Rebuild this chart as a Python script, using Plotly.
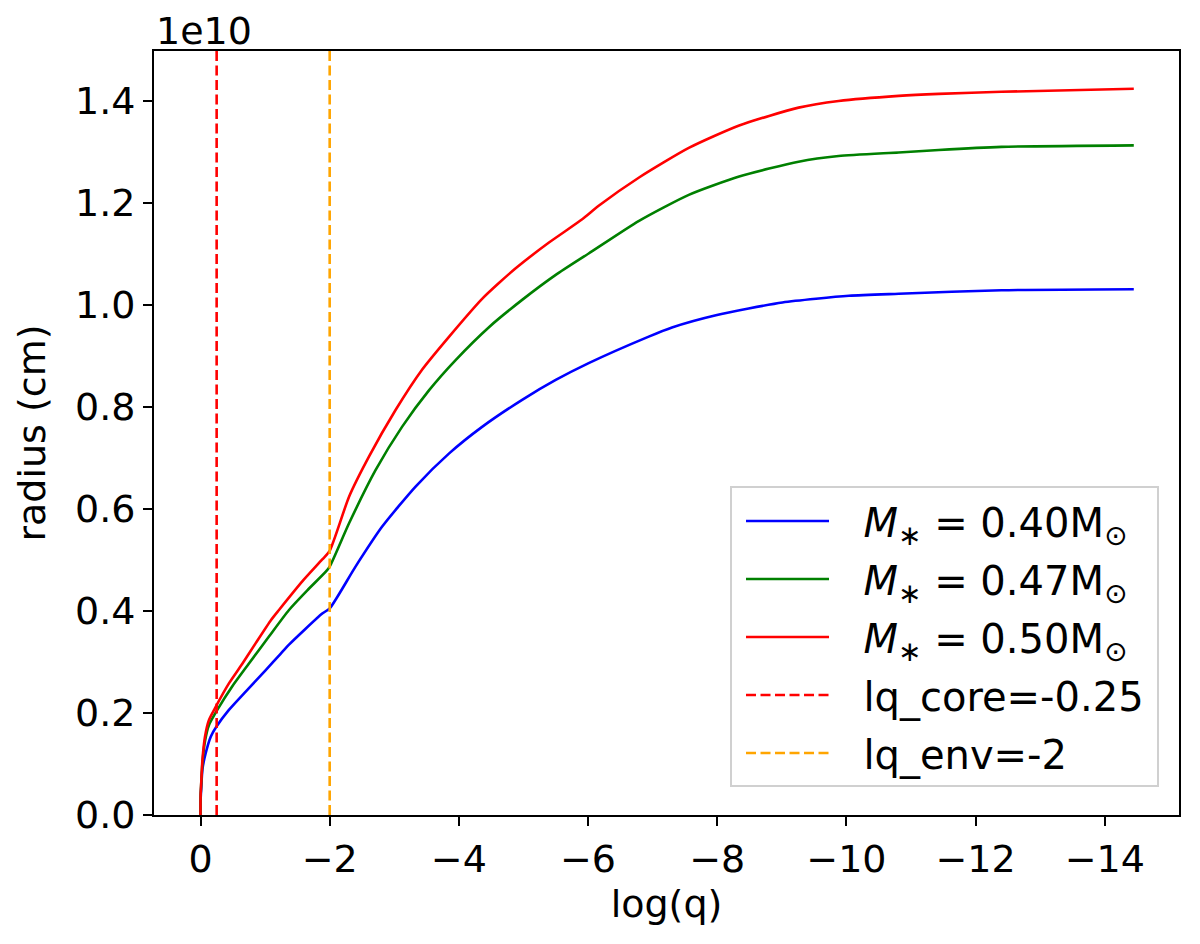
import plotly.graph_objects as go

# ---- data (radius in units of 1e10 cm) ----
logq_040 = [0, -0.0002, -0.002, -0.01, -0.03, -0.08, -0.16, -0.245, -0.44, -0.70, -1.01, -1.24,
            -1.37, -1.885, -2.0, -2.40, -2.81, -3.33, -3.85, -4.36, -4.98, -5.50, -6.01, -6.94,
            -7.30, -7.98, -9.01, -10.04, -10.81, -12.4, -14.45]
r_040 = [0, 0.015, 0.03, 0.05, 0.09, 0.121, 0.154, 0.173, 0.206, 0.242, 0.284, 0.316,
         0.334, 0.395, 0.405, 0.487, 0.565, 0.644, 0.709, 0.761, 0.814, 0.853, 0.886, 0.938,
         0.956, 0.980, 1.005, 1.018, 1.022, 1.029, 1.031]

logq_047 = [0, -0.0002, -0.002, -0.01, -0.03, -0.07, -0.13, -0.26, -0.49, -0.75, -1.06, -1.37,
            -1.65, -1.94, -2.0, -2.30, -2.71, -3.12, -3.54, -3.95, -4.47, -4.98, -5.50, -6.01,
            -6.79, -7.56, -8.34, -9.26, -9.88, -10.81, -11.43, -12.4, -14.45]
r_047 = [0, 0.019, 0.038, 0.058, 0.102, 0.145, 0.176, 0.206, 0.252, 0.297, 0.350, 0.402,
         0.440, 0.477, 0.487, 0.572, 0.676, 0.761, 0.833, 0.892, 0.957, 1.010, 1.059, 1.101,
         1.165, 1.216, 1.252, 1.281, 1.292, 1.299, 1.304, 1.310, 1.313]

logq_050 = [0, -0.0002, -0.002, -0.01, -0.03, -0.07, -0.13, -0.235, -0.44, -0.65, -0.855, -1.09,
            -1.215, -1.576, -1.885, -2.0, -2.30, -2.61, -3.02, -3.43, -3.85, -4.36, -4.62, -4.88,
            -5.39, -5.91, -6.17, -6.79, -7.56, -8.34, -9.26, -9.88, -10.81, -11.43, -12.4, -14.45]
r_050 = [0, 0.02, 0.04, 0.06, 0.108, 0.154, 0.186, 0.212, 0.258, 0.297, 0.337, 0.382,
         0.402, 0.458, 0.501, 0.518, 0.624, 0.703, 0.794, 0.873, 0.938, 1.012, 1.043, 1.072,
         1.122, 1.168, 1.195, 1.250, 1.308, 1.352, 1.387, 1.400, 1.410, 1.414, 1.418, 1.424]

lq_core = -0.25
lq_env = -2

x_range = [0.72, -15.15]
y_range = [0, 1.498]
x_ticks = [0, -2, -4, -6, -8, -10, -12, -14]
y_ticks = [0.0, 0.2, 0.4, 0.6, 0.8, 1.0, 1.2, 1.4]

PAD = "\u00a0\u00a0\u200a"
END = "\u2009"
names = [PAD + "<i>M</i><sub>∗</sub> = 0.40M<sub>⊙</sub>" + END,
         PAD + "<i>M</i><sub>∗</sub> = 0.47M<sub>⊙</sub>" + END,
         PAD + "<i>M</i><sub>∗</sub> = 0.50M<sub>⊙</sub>" + END,
         PAD + "lq_core=-0.25" + END,
         PAD + "lq_env=-2" + END]

FONT = "DejaVu Sans"

fig = go.Figure()
for i, (xs, ys, col) in enumerate([(logq_040, r_040, "blue"),
                                    (logq_047, r_047, "green"),
                                    (logq_050, r_050, "red")]):
    fig.add_trace(go.Scatter(x=xs, y=ys, mode="lines", name=names[i], legendgroup=f"g{i}",
                             line=dict(color=col, width=2.6, shape="spline", smoothing=0.6)))

fig.add_trace(go.Scatter(x=[lq_core, lq_core], y=y_range, mode="lines", name=names[3],
                         legendgroup="g3", line=dict(color="red", width=2.6, dash="10px,4.5px")))
fig.add_trace(go.Scatter(x=[lq_env, lq_env], y=y_range, mode="lines", name=names[4],
                         legendgroup="g4", line=dict(color="orange", width=2.6, dash="10px,4.5px")))

axis_common = dict(showgrid=False, zeroline=False, showline=True, mirror=True,
                   linecolor="black", linewidth=2, ticks="outside", ticklen=9, tickwidth=2,
                   tickcolor="black", automargin=False,
                   tickfont=dict(family=FONT, size=38, color="black"))

fig.update_layout(
    width=1192, height=936,
    margin=dict(l=146, r=21, t=43, b=129),
    paper_bgcolor="white", plot_bgcolor="white",
    font=dict(family=FONT, size=38, color="black"),
    xaxis=dict(range=x_range, tickvals=x_ticks, autorange=False,
               title=dict(text="log(q)", font=dict(family=FONT, size=38), standoff=11),
               **axis_common),
    yaxis=dict(range=y_range, tickvals=y_ticks, tickformat=".1f",
               title=dict(text="radius (cm)", font=dict(family=FONT, size=38), standoff=18),
               **axis_common),
    legend=dict(x=0.9805, y=0.036, xanchor="right", yanchor="bottom",
                bgcolor="white", bordercolor="#d0d0d0", borderwidth=2,
                font=dict(family=FONT, size=40, color="black"),
                itemwidth=83, tracegroupgap=3, indentation=9),
    annotations=[dict(text="1e10", x=0, y=1, xref="paper", yref="paper",
                      xanchor="left", yanchor="bottom", showarrow=False,
                      font=dict(family=FONT, size=38, color="black"), yshift=-4)],
)

fig.write_html("out.html")
